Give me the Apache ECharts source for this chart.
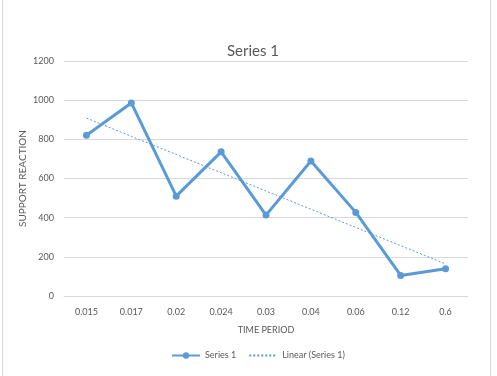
<!DOCTYPE html>
<html>
<head>
<meta charset="utf-8">
<script src="https://cdn.jsdelivr.net/npm/echarts@6/dist/echarts.min.js"></script>
<style>
  html, body { margin: 0; padding: 0; background: #fff; }
  body { padding-left: 2px; }
  #chart { width: 489px; height: 376px; box-sizing: border-box; border-left: 1px solid #d9d9d9; border-right: 1px solid #d9d9d9; }
</style>
</head>
<body>
<div id="chart"></div>
<script>
// categories (time period) and series values
const periods = ["0.015", "0.017", "0.02", "0.024", "0.03", "0.04", "0.06", "0.12", "0.6"];
const reaction = [821, 986, 510, 736, 413, 689, 427, 105, 139];
const yTicks = [0, 200, 400, 600, 800, 1000, 1200];

// linear trendline (least squares over category index, like Excel)
function linearTrend(values) {
  const n = values.length;
  let sx = 0, sy = 0, sxy = 0, sxx = 0;
  values.forEach((v, i) => {
    const x = i + 1;
    sx += x; sy += v; sxy += x * v; sxx += x * x;
  });
  const slope = (n * sxy - sx * sy) / (n * sxx - sx * sx);
  const icpt = (sy - slope * sx) / n;
  return values.map((v, i) => +(icpt + slope * (i + 1)).toFixed(1));
}
const trend = linearTrend(reaction);

const chart = echarts.init(document.getElementById("chart"));
const font = "Lato, 'Open Sans', sans-serif";
const option = {
  animation: false,
  textStyle: { fontFamily: font },
  title: {
    text: "Series 1",
    left: 245,
    textAlign: "center",
    top: 39,
    textStyle: { fontSize: 15, fontWeight: "normal", color: "#595959", fontFamily: font },
  },
  grid: { left: 61, right: 22, top: 61, bottom: 80 },
  legend: {
    bottom: 11,
    left: 163,
    itemGap: 12,
    itemWidth: 28,
    itemHeight: 8,
    textStyle: { fontSize: 9, color: "#595959", fontFamily: font },
    data: [
      { name: "Series 1" },
      { name: "Linear (Series 1)", itemStyle: { opacity: 0 } },
    ],
  },
  xAxis: {
    type: "category",
    data: periods,
    name: "TIME PERIOD",
    nameLocation: "middle",
    nameGap: 30,
    nameTextStyle: { fontSize: 9, color: "#595959" },
    axisTick: { show: false },
    axisLine: { lineStyle: { color: "#d9d9d9" } },
    axisLabel: { fontSize: 9, color: "#595959", margin: 12 },
  },
  yAxis: {
    type: "value",
    min: yTicks[0],
    max: yTicks[yTicks.length - 1],
    interval: 200,
    name: "SUPPORT REACTION",
    nameLocation: "middle",
    nameGap: 36,
    nameMoveOverlap: false,
    nameTextStyle: { fontSize: 10, color: "#595959" },
    axisLabel: { fontSize: 9, color: "#595959", margin: 10, formatter: (v) => String(v) },
    splitLine: { lineStyle: { color: "#d9d9d9" } },
  },
  series: [
    {
      name: "Series 1",
      type: "line",
      data: reaction,
      symbol: "circle",
      symbolSize: 7,
      itemStyle: { color: "#5b9bd5" },
      lineStyle: { width: 3, color: "#5b9bd5" },
    },
    {
      name: "Linear (Series 1)",
      type: "line",
      data: trend,
      symbol: "none",
      itemStyle: { color: "#5b9bd5" },
      lineStyle: { width: 1, type: [2, 2], color: "#5b9bd5" },
    },
  ],
};
chart.setOption(option);
</script>
</body>
</html>
